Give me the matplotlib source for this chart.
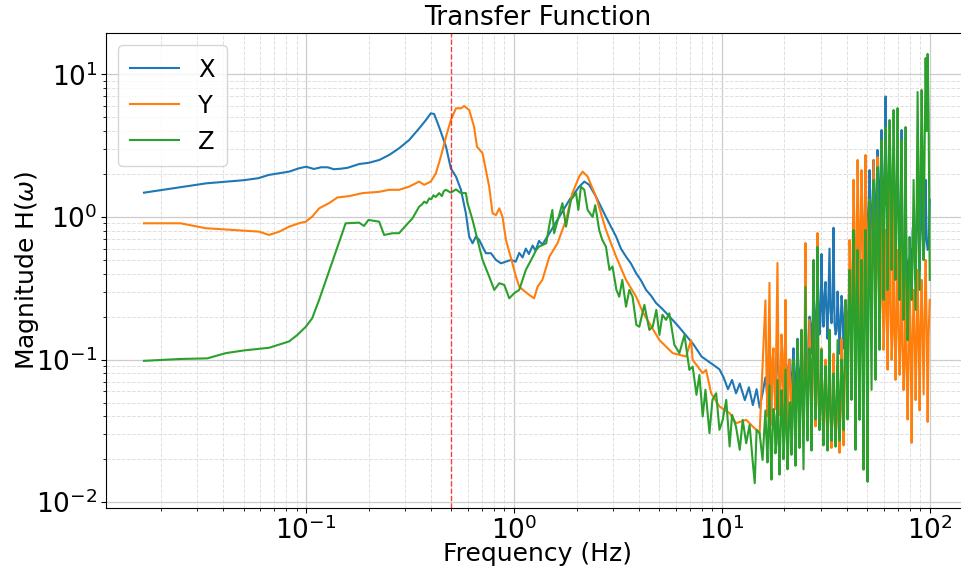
import matplotlib
matplotlib.use("Agg")
import matplotlib.pyplot as plt

# ---- low / mid frequency part (Hz, magnitude) ----
f_x = [0.0166, 0.033, 0.050, 0.059, 0.066, 0.083, 0.092, 0.100, 0.109, 0.118,
       0.127, 0.136, 0.147, 0.158, 0.180, 0.201, 0.225, 0.251, 0.280, 0.313,
       0.350, 0.377, 0.398, 0.413, 0.436, 0.471, 0.497, 0.526, 0.556, 0.587,
       0.609, 0.632, 0.656, 0.681, 0.706, 0.733, 0.775, 0.819, 0.866, 0.915,
       0.967, 1.02, 1.06, 1.10, 1.14, 1.18, 1.23, 1.27, 1.32, 1.37,
       1.48, 1.65, 1.85, 2.06, 2.18, 2.30, 2.48, 2.77, 3.10, 3.27,
       3.46, 3.66, 3.87, 4.08, 4.32, 4.57, 4.83, 5.20, 5.60, 6.10,
       6.72, 7.30, 7.99, 8.80, 9.74, 10.2, 10.7, 11.2, 11.7, 12.2,
       12.9, 13.5, 14.1, 14.7, 15.2, 15.7]
mag_x = [1.48, 1.72, 1.81, 1.87, 1.97, 2.08, 2.19, 2.25, 2.17, 2.23,
         2.23, 2.16, 2.18, 2.21, 2.35, 2.40, 2.51, 2.72, 3.03, 3.46,
         4.18, 4.78, 5.33, 5.27, 4.29, 3.11, 2.19, 1.92, 1.55, 1.06,
         0.728, 0.654, 0.728, 0.690, 0.619, 0.557, 0.557, 0.500, 0.473, 0.486,
         0.500, 0.486, 0.56, 0.52, 0.60, 0.55, 0.63, 0.58, 0.68, 0.64,
         0.768, 1.0, 1.32, 1.63, 1.77, 1.68, 1.39, 1.0, 0.728, 0.60,
         0.527, 0.47, 0.403, 0.36, 0.308, 0.28, 0.249, 0.225, 0.200, 0.175,
         0.148, 0.128, 0.105, 0.095, 0.0855, 0.075, 0.062, 0.072, 0.058, 0.068,
         0.052, 0.064, 0.048, 0.062, 0.046, 0.058]

f_y = [0.0166, 0.0249, 0.0329, 0.0442, 0.0594, 0.0663, 0.0743, 0.0828, 0.0924, 0.0997,
       0.107, 0.1156, 0.129, 0.1415, 0.161, 0.187, 0.2245, 0.2506, 0.280, 0.3126,
       0.3497, 0.370, 0.398, 0.421, 0.445, 0.471, 0.497, 0.526, 0.556, 0.576,
       0.609, 0.643, 0.664, 0.706, 0.733, 0.760, 0.789, 0.819, 0.850, 0.881,
       0.915, 0.967, 1.022, 1.06, 1.12, 1.185, 1.25, 1.30, 1.37, 1.48,
       1.62, 1.78, 1.91, 2.06, 2.14, 2.26, 2.48, 2.77, 3.10, 3.46,
       3.87, 4.16, 5.01, 5.80, 6.73, 7.11, 7.24, 8.09, 8.40, 8.88,
       9.74, 10.9, 11.7, 13.1, 14.1, 15.2]
mag_y = [0.903, 0.903, 0.834, 0.811, 0.789, 0.748, 0.789, 0.855, 0.903, 0.927,
         1.005, 1.15, 1.25, 1.37, 1.40, 1.47, 1.50, 1.55, 1.55, 1.63,
         1.77, 1.68, 1.77, 2.02, 2.65, 3.65, 4.78, 5.78, 5.78, 6.0,
         5.62, 4.29, 3.11, 2.80, 2.13, 1.63, 1.06, 1.03, 1.15, 1.0,
         0.690, 0.516, 0.382, 0.325, 0.303, 0.284, 0.269, 0.325, 0.362, 0.527,
         0.654, 0.953, 1.47, 1.92, 2.08, 1.92, 1.39, 0.811, 0.527, 0.362,
         0.276, 0.216, 0.137, 0.111, 0.105, 0.137, 0.0995, 0.0803, 0.0847, 0.0581,
         0.0469, 0.0421, 0.0358, 0.0378, 0.0339, 0.0305]

f_z = [0.0166, 0.0249, 0.0335, 0.0411, 0.0503, 0.0663, 0.0828, 0.0908, 0.0997, 0.107,
       0.1155, 0.155, 0.180, 0.190, 0.1995, 0.2245, 0.2374, 0.260, 0.280, 0.289,
       0.325, 0.3497, 0.36, 0.37, 0.38, 0.391, 0.40, 0.41, 0.42, 0.4364,
       0.45, 0.46, 0.471, 0.497, 0.526, 0.556, 0.587, 0.598, 0.632, 0.668,
       0.706, 0.760, 0.804, 0.850, 0.898, 0.949, 1.003, 1.06, 1.14, 1.21,
       1.28, 1.32, 1.43, 1.48, 1.53, 1.56, 1.65, 1.71, 1.78, 1.88,
       1.99, 2.04, 2.10, 2.18, 2.26, 2.39, 2.46, 2.57, 2.66, 2.77,
       2.88, 2.98, 3.11, 3.21, 3.32, 3.46, 3.59, 3.72, 3.88, 4.01,
       4.24, 4.48, 4.65, 4.84, 5.01, 5.18, 5.39, 5.59, 5.91, 6.25,
       6.61, 6.98, 7.24, 7.55, 7.80, 8.09, 8.34, 8.72, 9.01, 9.39,
       9.74, 10.1, 10.5, 10.9, 11.2, 11.7, 12.2, 12.6, 13.1, 13.6,
       14.1, 14.4, 14.7, 15.2, 15.7]
mag_z = [0.098, 0.101, 0.102, 0.111, 0.116, 0.121, 0.134, 0.149, 0.170, 0.195,
         0.262, 0.903, 0.912, 0.865, 0.953, 0.927, 0.748, 0.769, 0.769, 0.811,
         0.979, 1.18, 1.22, 1.28, 1.25, 1.35, 1.33, 1.42, 1.38, 1.47,
         1.40, 1.52, 1.55, 1.48, 1.56, 1.47, 1.47, 1.25, 0.953, 0.690,
         0.500, 0.382, 0.308, 0.343, 0.334, 0.269, 0.292, 0.308, 0.425, 0.500,
         0.587, 0.619, 0.654, 0.879, 1.12, 0.769, 1.03, 1.25, 0.855, 1.32,
         1.47, 1.12, 1.63, 1.55, 1.12, 1.0, 1.21, 0.811, 0.690, 0.619,
         0.425, 0.449, 0.308, 0.276, 0.362, 0.235, 0.308, 0.276, 0.175, 0.170,
         0.242, 0.1615, 0.170, 0.223, 0.149, 0.206, 0.190, 0.211, 0.127, 0.111,
         0.149, 0.0847, 0.0893, 0.0566, 0.0781, 0.0399, 0.0614, 0.0305, 0.0522, 0.0581,
         0.0322, 0.0378, 0.0522, 0.0246, 0.0410, 0.0339, 0.0233, 0.0378, 0.0259, 0.0349,
         0.0188, 0.0136, 0.0322, 0.0305, 0.0198]

# ---- high frequency (noisy) part: extremes at f_hf, band core at f_hf2 ----
f_hf = [16.21, 16.58, 16.95, 17.33, 17.72, 18.11, 18.52, 18.94, 19.36, 19.80,
        20.24, 20.69, 21.16, 21.63, 22.12, 22.61, 23.12, 23.64, 24.17, 24.71,
        25.26, 25.83, 26.41, 27.00, 27.61, 28.22, 28.86, 29.50, 30.17, 30.84,
        31.53, 32.24, 32.96, 33.70, 34.46, 35.24, 36.03, 36.83, 37.66, 38.50,
        39.37, 40.25, 41.15, 42.07, 43.02, 43.98, 44.97, 45.97, 47.00, 48.06,
        49.13, 50.23, 51.36, 52.51, 53.70, 54.90, 56.13, 57.39, 58.67, 59.99,
        61.33, 62.71, 64.12, 65.55, 67.02, 68.53, 70.06, 71.63, 73.24, 74.88,
        76.56, 78.28, 80.03, 81.83, 83.66, 85.54, 87.46, 89.43, 91.43, 93.48,
        95.58, 97.72, 100.0]
x_hf = [0.075, 0.052, 0.095, 0.058, 0.085, 0.050, 0.16, 0.060, 0.11, 0.055,
        0.13, 0.062, 0.10, 0.057, 0.12, 0.050, 0.14, 0.065, 0.10, 0.056,
        0.115, 0.07, 0.20, 0.11, 0.30, 0.13, 0.42, 0.15, 0.55, 0.17,
        0.35, 0.14, 0.60, 0.18, 0.84, 0.15, 0.30, 0.11, 0.28, 0.12,
        0.25, 0.13, 0.36, 0.18, 0.55, 0.25, 0.95, 0.30, 1.32, 0.362,
        1.55, 0.425, 2.13, 0.500, 2.51, 0.587, 2.95, 0.690, 4.07, 0.811,
        7.0, 1.32, 3.46, 0.811, 2.51, 0.953, 2.95, 0.690, 4.07, 0.587,
        1.32, 0.308, 0.500, 0.262, 0.953, 0.362, 1.82, 0.425, 2.13, 0.500,
        1.82, 0.587, 1.32]
y_hf = [0.26, 0.040, 0.345, 0.035, 0.12, 0.045, 0.476, 0.041, 0.15, 0.036,
        0.262, 0.034, 0.10, 0.040, 0.085, 0.036, 0.075, 0.032, 0.09, 0.038,
        0.657, 0.047, 0.19, 0.036, 0.26, 0.034, 0.772, 0.040, 0.12, 0.028,
        0.10, 0.026, 0.14, 0.024, 0.11, 0.027, 0.09, 0.0222, 0.14, 0.025,
        0.26, 0.04, 0.69, 0.07, 1.82, 0.09, 2.51, 0.12, 2.13, 0.15,
        2.72, 0.19, 1.32, 0.22, 2.51, 0.19, 2.63, 0.16, 1.32, 0.117,
        0.811, 0.085, 3.75, 0.10, 2.51, 0.072, 0.587, 0.078, 0.811, 0.061,
        0.425, 0.038, 0.362, 0.0261, 0.308, 0.052, 0.425, 0.044, 0.362, 0.057,
        0.50, 0.0366, 0.262]
z_hf = [0.044, 0.019, 0.066, 0.0144, 0.045, 0.022, 0.072, 0.0156, 0.061, 0.020,
        0.085, 0.017, 0.05, 0.0215, 0.10, 0.018, 0.137, 0.024, 0.162, 0.017,
        0.323, 0.027, 0.12, 0.023, 0.50, 0.038, 0.616, 0.032, 0.117, 0.025,
        0.09, 0.023, 0.162, 0.027, 0.08, 0.0245, 0.137, 0.027, 0.10, 0.032,
        0.262, 0.038, 0.425, 0.0522, 0.811, 0.0233, 0.587, 0.0378, 0.500, 0.0169,
        0.811, 0.0139, 1.32, 0.0614, 1.82, 0.0721, 2.24, 0.117, 3.46, 0.262,
        4.27, 0.308, 4.78, 0.425, 5.62, 0.362, 5.80, 0.262, 3.46, 0.190,
        4.27, 0.137, 0.724, 0.262, 1.82, 0.223, 7.52, 0.308, 7.76, 0.500,
        13.0, 13.9, 0.362]

f_hf2 = [16.39, 16.76, 17.14, 17.52, 17.92, 18.31, 18.73, 19.15, 19.58, 20.02,
         20.47, 20.92, 21.39, 21.87, 22.36, 22.87, 23.38, 23.90, 24.44, 24.99,
         25.55, 26.12, 26.70, 27.30, 27.91, 28.54, 29.18, 29.83, 30.50, 31.18,
         31.88, 32.60, 33.33, 34.08, 34.85, 35.63, 36.43, 37.24, 38.08, 38.93,
         39.81, 40.70, 41.61, 42.54, 43.50, 44.47, 45.47, 46.48, 47.53, 48.59,
         49.68, 50.79, 51.93, 53.10, 54.29, 55.51, 56.75, 58.03, 59.33, 60.66,
         62.02, 63.41, 64.83, 66.28, 67.77, 69.29, 70.84, 72.43, 74.05, 75.71,
         77.41, 79.15, 80.92, 82.74, 84.60, 86.49, 88.44, 90.42, 92.45, 94.52,
         96.64, 98.81]
x_hf2 = [0.065, 0.072, 0.068, 0.09, 0.075, 0.10, 0.08, 0.07, 0.085, 0.095,
         0.078, 0.088, 0.07, 0.092, 0.082, 0.075, 0.09, 0.08, 0.072, 0.095,
         0.088, 0.14, 0.18, 0.16, 0.22, 0.2, 0.26, 0.19, 0.24, 0.28,
         0.21, 0.3, 0.22, 0.25, 0.18, 0.16, 0.2, 0.17, 0.22, 0.19,
         0.2, 0.24, 0.3, 0.35, 0.45, 0.5, 0.6, 0.7, 0.8, 0.9,
         1.0, 1.1, 1.2, 1.1, 1.3, 1.5, 1.6, 2.0, 1.8, 1.5,
         1.2, 1.6, 1.3, 1.4, 1.2, 1.5, 1.1, 0.9, 0.6, 0.45,
         0.4, 0.5, 0.6, 0.8, 0.7, 0.9, 0.8, 0.9, 0.8, 0.7,
         0.7, 0.6]
y_hf2 = [0.08, 0.12, 0.07, 0.10, 0.06, 0.14, 0.09, 0.065, 0.11, 0.075,
         0.06, 0.085, 0.055, 0.07, 0.06, 0.05, 0.065, 0.055, 0.07, 0.12,
         0.09, 0.07, 0.08, 0.06, 0.12, 0.09, 0.05, 0.06, 0.045, 0.055,
         0.04, 0.05, 0.042, 0.048, 0.038, 0.04, 0.035, 0.045, 0.05, 0.06,
         0.09, 0.2, 0.35, 0.5, 0.7, 0.6, 0.9, 0.8, 1.0, 0.7,
         0.6, 0.8, 0.5, 0.7, 0.6, 0.5, 0.4, 0.3, 0.25, 0.2,
         0.28, 0.3, 0.22, 0.15, 0.18, 0.2, 0.16, 0.14, 0.12, 0.1,
         0.09, 0.1, 0.15, 0.13, 0.16, 0.12, 0.15, 0.17, 0.14, 0.2,
         0.18, 0.15]
z_hf2 = [0.028, 0.035, 0.025, 0.03, 0.04, 0.026, 0.033, 0.029, 0.045, 0.03,
         0.038, 0.027, 0.05, 0.035, 0.06, 0.04, 0.07, 0.05, 0.055, 0.08,
         0.06, 0.07, 0.09, 0.12, 0.1, 0.08, 0.06, 0.05, 0.045, 0.06,
         0.05, 0.055, 0.045, 0.04, 0.05, 0.045, 0.06, 0.055, 0.07, 0.09,
         0.12, 0.15, 0.2, 0.25, 0.15, 0.3, 0.1, 0.2, 0.08, 0.3,
         0.15, 0.4, 0.3, 0.6, 0.5, 0.8, 0.6, 1.0, 1.5, 1.2,
         2.0, 1.6, 2.2, 1.4, 1.8, 1.2, 1.0, 0.8, 0.6, 0.5,
         0.35, 0.3, 0.4, 0.5, 0.6, 1.0, 1.4, 2.0, 2.5, 3.0,
         4.0, 5.0]

labels = ["X", "Y", "Z"]
f_cut = 0.5


def series(f_lo, m_lo, m_hf, m_hf2):
    hf = sorted(zip(f_hf + f_hf2, m_hf + m_hf2))
    return f_lo + [p[0] for p in hf], m_lo + [p[1] for p in hf]


fig = plt.figure(figsize=(9.61, 5.69), dpi=100)
ax = fig.add_axes([0.1103, 0.1077, 0.898, 0.8338])

for (fl, ml, mh, mh2), lab in zip([(f_x, mag_x, x_hf, x_hf2),
                                   (f_y, mag_y, y_hf, y_hf2),
                                   (f_z, mag_z, z_hf, z_hf2)], labels):
    fs, ms = series(fl, ml, mh, mh2)
    ax.loglog(fs, ms, label=lab, linewidth=1.5)
ax.axvline(f_cut, color="red", linestyle="--", linewidth=1, alpha=0.75)

ax.set_xlim(0.0109, 154.5)
ax.set_ylim(0.00915, 19.4)
ax.set_axisbelow(True)
ax.grid(True, which="major", linestyle="-", color="0.8", linewidth=0.9)
ax.grid(True, which="minor", linestyle="--", color="0.88", linewidth=0.7)

ax.set_title("Transfer Function", fontsize=19)
ax.set_xlabel("Frequency (Hz)", fontsize=18, labelpad=-2)
ax.set_ylabel(r"Magnitude H($\omega$)", fontsize=18, labelpad=-3)
ax.tick_params(axis="both", which="major", labelsize=19, pad=2.5)
ax.legend(loc="upper left", fontsize=17.5, borderpad=0.5)

fig.savefig("out.png", dpi=100)
